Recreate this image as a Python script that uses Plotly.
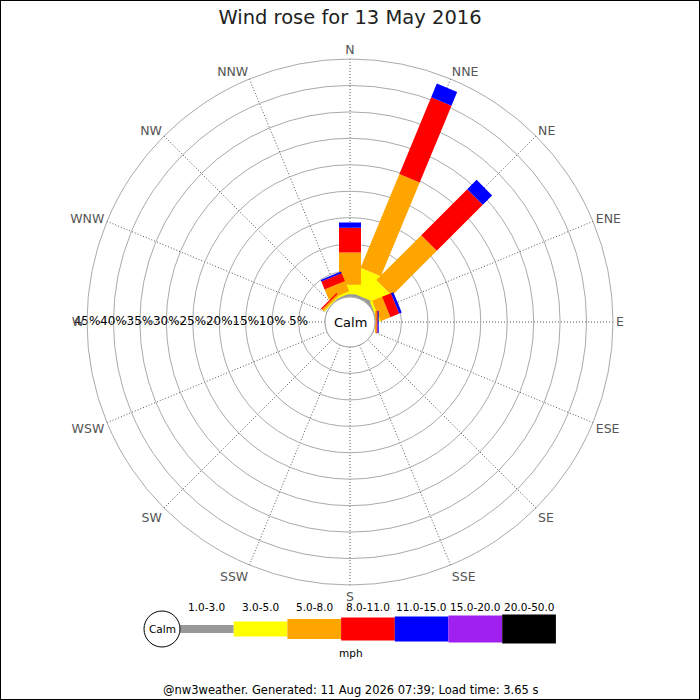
import math
import plotly.graph_objects as go

directions = ["N", "NNE", "NE", "ENE", "E", "ESE", "SE", "SSE",
              "S", "SSW", "SW", "WSW", "W", "WNW", "NW", "NNW"]
speed_bins = ["1.0-3.0", "3.0-5.0", "5.0-8.0", "8.0-11.0", "11.0-15.0", "15.0-20.0", "20.0-50.0"]
bin_colors = ["#999999", "#ffff00", "#ffa500", "#ff0000", "#0000ff", "#a020f0", "#000000"]

# % of the day per direction, one list per speed bin
pct_1_3 = [0.5, 0.5, 0.9, 0.2, 0, 0, 0, 0, 0, 0, 0, 0, 0, 0, 0.1, 0.3]
pct_3_5 = [1.8, 5.0, 3.5, 0.5, 0, 0, 0, 0, 0, 0, 0, 0, 0, 0, 0.2, 0.4]
pct_5_8 = [6.1, 19.2, 12.0, 2.0, 0.3, 0, 0, 0, 0, 0, 0, 0, 0, 0, 0.4, 2.1]
pct_8_11 = [4.7, 15.7, 12.3, 1.8, 0.2, 0, 0, 0, 0, 0, 0, 0, 0, 0, 0.25, 1.6]
pct_11_15 = [1.0, 2.8, 2.5, 0.5, 0.2, 0, 0, 0, 0, 0, 0, 0, 0, 0, 0, 0.35]
pct_15_20 = [0] * 16
pct_20_50 = [0] * 16
all_pcts = [pct_1_3, pct_3_5, pct_5_8, pct_8_11, pct_11_15, pct_15_20, pct_20_50]

ring_vals = [5, 10, 15, 20, 25, 30, 35, 40, 45]
ring_labels = ["5%", "10%", "15%", "20%", "25%", "30%", "35%", "40%", "45%"]

W, H = 700, 700
cx, cy = 350, 322
R_out, R_hole = 263, 25
r_max = 45
hole = R_hole / R_out
k = (R_out - R_hole) / r_max      # px per %
r0 = R_hole / k                   # hole radius in % units
half_w = 11 / k                   # half bar width in % units

angles = [i * 22.5 for i in range(16)]


def bar_outline(theta, a, b):
    # straight sided bar from a to b along direction theta
    rr, tt = [], []
    for d, s in [(a, -1), (b, -1), (b, 1), (a, 1), (a, -1)]:
        D = d + r0
        rr.append(math.hypot(D, half_w) - r0)
        tt.append(theta + s * math.degrees(math.atan2(half_w, D)))
    return rr, tt


def px(x, y):
    return x / W, 1 - y / H


fig = go.Figure()

base = [0] * 16
for name, col, vals in zip(speed_bins, bin_colors, all_pcts):
    rs, ts = [], []
    for i, v in enumerate(vals):
        if v > 0:
            rr, tt = bar_outline(angles[i], base[i], base[i] + v)
            rs += rr + [None]
            ts += tt + [None]
            base[i] += v
    if rs:
        fig.add_trace(go.Scatterpolar(r=rs, theta=ts, mode="lines", fill="toself",
                                      fillcolor=col, line=dict(width=0, color=col),
                                      hoverinfo="skip", name=name, showlegend=False))

# calm circle
circ_t = [i * 5 for i in range(73)]
fig.add_trace(go.Scatterpolar(r=[0] * 73, theta=circ_t, mode="lines",
                              line=dict(color="#aaaaaa", width=1), hoverinfo="skip",
                              showlegend=False))

# ring labels along W
fig.add_trace(go.Scatterpolar(r=ring_vals, theta=[270] * len(ring_vals), mode="text",
                              text=ring_labels, textposition="middle center",
                              textfont=dict(family="DejaVu Sans", size=12, color="#000"),
                              hoverinfo="skip", showlegend=False))

x0, x1 = (cx - R_out) / W, (cx + R_out) / W
y0, y1 = 1 - (cy + R_out) / H, 1 - (cy - R_out) / H

fig.update_layout(
    width=W, height=H,
    margin=dict(l=0, r=0, t=0, b=0),
    paper_bgcolor="white",
    font=dict(family="DejaVu Sans", color="#222"),
    title=dict(text="Wind rose for 13 May 2016", x=0.5, xanchor="center",
               y=1 - 17 / H, yanchor="middle",
               font=dict(family="DejaVu Sans", size=19.5, color="#222")),
    polar=dict(
        domain=dict(x=[x0, x1], y=[y0, y1]),
        hole=hole,
        bgcolor="white",
        radialaxis=dict(range=[0, r_max], tickvals=[0] + ring_vals, showticklabels=False,
                        ticks="", showline=False, gridcolor="#aaaaaa", gridwidth=1),
        angularaxis=dict(direction="clockwise", rotation=90, type="linear",
                         tickmode="array", tickvals=angles, ticktext=directions,
                         ticks="", showline=True, linecolor="#aaaaaa", linewidth=1,
                         gridcolor="#555555", griddash="1px,2px", gridwidth=1,
                         tickfont=dict(family="DejaVu Sans", size=12.5, color="#555555")),
    ),
)


def note(x, y, text, size):
    ax, ay = px(x, y)
    return dict(x=ax, y=ay, xref="paper", yref="paper", text=text, showarrow=False,
                xanchor="center", yanchor="middle", font=dict(size=size, color="#000"))


annotations = [note(cx, cy, "Calm", 13)]
shapes = [dict(type="rect", xref="paper", yref="paper", x0=0, y0=0, x1=1, y1=1,
               line=dict(color="black", width=2))]

# speed legend at the bottom
leg_x, leg_w, leg_cy = 180, 53.7, 629
leg_h = [8, 15, 20, 23, 25, 27, 29]
for i, (name, col) in enumerate(zip(speed_bins, bin_colors)):
    lx0 = leg_x + i * leg_w
    sx0, sy0 = px(lx0, leg_cy + leg_h[i] / 2)
    sx1, sy1 = px(lx0 + leg_w, leg_cy - leg_h[i] / 2)
    shapes.append(dict(type="rect", xref="paper", yref="paper",
                       x0=sx0, x1=sx1, y0=sy0, y1=sy1,
                       fillcolor=col, line=dict(width=0)))
    annotations.append(note(lx0 + leg_w / 2, 607, name, 10.5))
cx0, cy0 = px(144, 647)
cx1, cy1 = px(180, 611)
shapes.append(dict(type="circle", xref="paper", yref="paper",
                   x0=cx0, x1=cx1, y0=cy0, y1=cy1,
                   line=dict(color="black", width=1), fillcolor="white"))
annotations.append(note(162, leg_cy, "Calm", 10.5))
annotations.append(note(351, 653, "mph", 10.5))
annotations.append(note(350, 690, "@nw3weather. Generated: 11 Aug 2026 07:39; Load time: 3.65 s", 11.5))

fig.update_layout(annotations=annotations, shapes=shapes)
fig.write_html("out.html", config={"displayModeBar": False},
               post_script="document.body.style.margin='0';")
